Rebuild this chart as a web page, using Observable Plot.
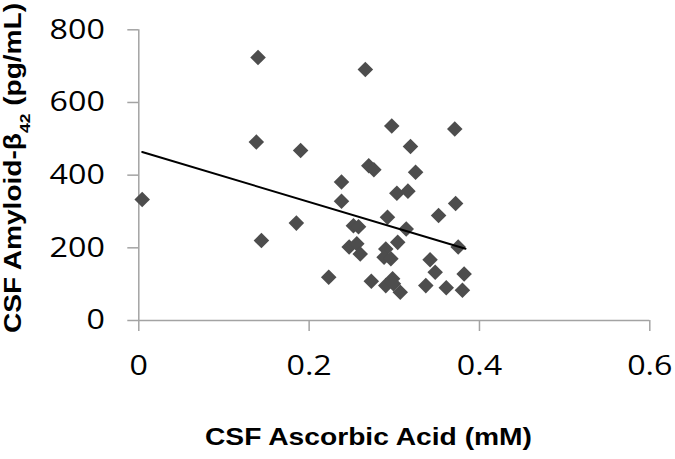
<!DOCTYPE html>
<html><head><meta charset="utf-8">
<script src="https://cdn.jsdelivr.net/npm/d3@7"></script>
<script src="https://cdn.jsdelivr.net/npm/@observablehq/plot@0.6"></script>
<style>body{margin:0;background:#fff}</style>
</head><body><div id="chart"></div>
<script>
// CSF ascorbic acid (mM) vs CSF amyloid-β42 (pg/mL)
const ascorbic = [0.140, 0.266, 0.297, 0.371, 0.138, 0.190, 0.319, 0.270, 0.276, 0.325,
                  0.238, 0.303, 0.316, 0.004, 0.238, 0.372, 0.292, 0.352, 0.185, 0.252,
                  0.258, 0.314, 0.144, 0.304, 0.375, 0.247, 0.256, 0.260, 0.290, 0.288,
                  0.296, 0.342, 0.348, 0.382, 0.223, 0.273, 0.298, 0.290, 0.299, 0.307,
                  0.337, 0.361, 0.380];
const amyloid = [724, 691, 535, 527, 491, 468, 479, 426, 415, 408,
                 381, 350, 356, 333, 328, 322, 284, 289, 268, 261,
                 258, 252, 220, 215, 202, 202, 211, 183, 197, 174,
                 170, 167, 133, 128, 119, 108, 115, 96, 101, 78,
                 96, 90, 83];
const trendX = [0.004, 0.3836];
const trendY = [463.7, 197.3];
const xTicks = [0, 0.2, 0.4, 0.6];
const xTickLabels = ["0", "0.2", "0.4", "0.6"];
const yTicks = [0, 200, 400, 600, 800];
const yTickLabels = ["0", "200", "400", "600", "800"];
const xTitle = "CSF Ascorbic Acid (mM)";
const yTitleMain = "CSF Amyloid-β";
const yTitleSub = "42";
const yTitleUnit = " (pg/mL)";

const points = ascorbic.map((x, i) => ({x, y: amyloid[i]}));
const trend = trendX.map((x, i) => ({x, y: trendY[i]}));

const axisColor = "#a3a3a3";
const plot = Plot.plot({
  width: 675, height: 459,
  marginTop: 29.3, marginBottom: 139, marginLeft: 138.3, marginRight: 25.7,
  style: {fontFamily: "'Open Sans', sans-serif", fontSize: "28px", color: "#000", background: "#fff", overflow: "visible"},
  x: {domain: [0, 0.6]},
  y: {domain: [0, 800]},
  marks: [
    Plot.ruleY([0], {stroke: axisColor, strokeWidth: 1.5}),
    Plot.ruleX([0], {stroke: axisColor, strokeWidth: 1.5}),
    Plot.axisX({ticks: xTicks, tickFormat: d => xTickLabels[xTicks.indexOf(d)], tickSize: 11, tickPadding: 24, stroke: axisColor, strokeWidth: 1.5, label: null}),
    Plot.axisY({ticks: yTicks, tickFormat: d => yTickLabels[yTicks.indexOf(d)], tickSize: 11, tickPadding: 23, stroke: axisColor, strokeWidth: 1.5, label: null}),
    Plot.dot(points, {x: "x", y: "y", symbol: "diamond2", r: 7, fill: "#4d4d4d", stroke: "none"}),
    Plot.line(trend, {x: "x", y: "y", stroke: "#000", strokeWidth: 2})
  ]
});
document.getElementById("chart").appendChild(plot);

const svg = d3.select(plot);
// widen tick labels to match the reference's broad digits
svg.selectAll("g[aria-label='x-axis tick label'] text, g[aria-label='y-axis tick label'] text").each(function() {
  const L = this.getComputedTextLength();
  d3.select(this).attr("textLength", L * 1.15).attr("lengthAdjust", "spacingAndGlyphs");
});

svg.append("text")
  .attr("x", 205).attr("y", 445)
  .attr("text-anchor", "start")
  .attr("font-family", "'Liberation Sans', Arial, sans-serif")
  .attr("font-weight", "bold").attr("font-size", 24).attr("fill", "#000")
  .attr("textLength", 327).attr("lengthAdjust", "spacingAndGlyphs")
  .text(xTitle);

const yt = svg.append("text")
  .attr("transform", "translate(20.5,333) rotate(-90)")
  .attr("text-anchor", "start")
  .attr("font-family", "'Liberation Sans', Arial, sans-serif")
  .attr("font-weight", "bold").attr("font-size", 24).attr("fill", "#000")
  .attr("textLength", 330).attr("lengthAdjust", "spacingAndGlyphs");
yt.append("tspan").text(yTitleMain);
yt.append("tspan").attr("font-size", 15).attr("dy", 9).text(yTitleSub);
yt.append("tspan").attr("dy", -9).text(yTitleUnit);
</script>
</body></html>
